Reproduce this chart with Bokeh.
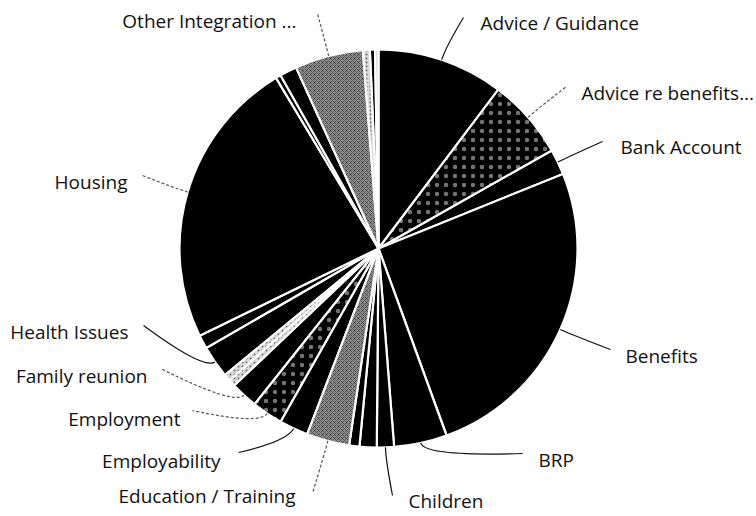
import math
from bokeh.plotting import figure
from bokeh.models import Range1d, ColumnDataSource
from bokeh.embed import file_html
from bokeh.resources import INLINE
from bokeh.core.properties import value

# ---------------- data (clockwise from 12 o'clock) ----------------
categories = [
    "Advice / Guidance", "Advice re benefits...", "Bank Account", "Benefits",
    "BRP", "Children", "(unlabelled 1)", "(unlabelled 2)",
    "Education / Training", "Employability", "Employment", "Family reunion",
    "(unlabelled 3)", "(unlabelled 4)", "Health Issues", "(unlabelled 5)",
    "Housing", "(unlabelled 6)", "(unlabelled 7)", "Other Integration ...",
    "(unlabelled 8)", "(unlabelled 9)", "(unlabelled 10)",
]
counts = [74, 47, 15, 184, 31, 10, 10, 6, 25, 17, 18, 16, 4, 4, 19, 8,
          170, 3, 10, 40, 4, 3, 2]
shown_labels = [
    "Advice / Guidance", "Advice re benefits...", "Bank Account", "Benefits",
    "BRP", "Children", "Education / Training", "Employability", "Employment",
    "Family reunion", "Health Issues", "Housing", "Other Integration ...",
]

# ---------------- styles ----------------
slice_style = ["black", "dots", "black", "black", "black", "black", "black",
               "black", "stipple", "black", "dots", "black", "light", "light",
               "black", "black", "black", "black", "black", "stipple",
               "light", "black", "light"]

# label layout in page pixels: text x, text y, align, leader anchor x, y, dashed
label_layout = {
    "Other Integration ...": (296, 20, "right", 317, 13, True),
    "Advice / Guidance": (480, 22, "left", 463, 17, False),
    "Advice re benefits...": (581, 92, "left", 566, 86, True),
    "Bank Account": (620, 146, "left", 602, 141, False),
    "Benefits": (625, 355, "left", 610, 349, False),
    "BRP": (538, 459, "left", 522, 453, False),
    "Children": (408, 500, "left", 392, 495, False),
    "Education / Training": (295, 495, "right", 312, 493, True),
    "Employability": (220, 460, "right", 238, 452, False),
    "Employment": (180, 418, "right", 192, 410, True),
    "Family reunion": (147, 375, "right", 160, 368, True),
    "Health Issues": (128, 331, "right", 143, 325, False),
    "Housing": (127, 181, "right", 142, 175, True),
}

W, H = 756, 516
CX, CY_PAGE = 378, 248
R = 199
FONT = "Open Sans"
FSIZE = "19px"


def py(y_page):
    return H - y_page


p = figure(width=W, height=H, output_backend="svg", toolbar_location=None,
           x_range=Range1d(0, W), y_range=Range1d(0, H),
           min_border=0)
p.axis.visible = False
p.grid.visible = False
p.outline_line_color = None
p.background_fill_color = "white"
p.border_fill_color = "white"

total = float(sum(counts))
cum = 0.0
starts, ends = [], []
for c in counts:
    starts.append(cum / total * 360.0)
    cum += c
    ends.append(cum / total * 360.0)

groups = {}
for i, st in enumerate(slice_style):
    groups.setdefault(st, []).append(i)

cy = py(CY_PAGE)
for st, idx in groups.items():
    src = ColumnDataSource(dict(
        x=[CX] * len(idx), y=[cy] * len(idx),
        sa=[math.radians(90 - starts[i]) for i in idx],
        ea=[math.radians(90 - ends[i]) for i in idx],
    ))
    kw = dict(x="x", y="y", radius=R, start_angle="sa", end_angle="ea",
              direction="clock", source=src, line_color="white",
              line_width=2.2)
    if st == "black":
        p.wedge(fill_color="black", **kw)
    elif st == "dots":
        p.wedge(fill_color="black", hatch_pattern="dot", hatch_color="white",
                hatch_scale=9, hatch_weight=1, hatch_alpha=0.45, **kw)
    elif st == "stipple":
        p.wedge(fill_color="#8e8e8e", hatch_pattern="diagonal_cross",
                hatch_color="black", hatch_scale=4, hatch_weight=0.7,
                hatch_alpha=0.6, **kw)
    else:
        p.wedge(fill_color="#d9d9d9", hatch_pattern="dot",
                hatch_color="black", hatch_scale=4, hatch_weight=1,
                hatch_alpha=0.5, **kw)

# leader lines and labels
lines = {True: dict(x0=[], y0=[], x1=[], y1=[], cx=[], cy=[]),
         False: dict(x0=[], y0=[], x1=[], y1=[], cx=[], cy=[])}
texts = {"left": dict(x=[], y=[], t=[]), "right": dict(x=[], y=[], t=[])}
for name in shown_labels:
    i = categories.index(name)
    mid = math.radians((starts[i] + ends[i]) / 2.0)
    rx = CX + R * math.sin(mid)
    ry = CY_PAGE - R * math.cos(mid)
    ex = CX + (R + 14) * math.sin(mid)
    ey = CY_PAGE - (R + 14) * math.cos(mid)
    tx, ty, align, ax, ay, dashed = label_layout[name]
    d = lines[dashed]
    d["x0"].append(rx); d["y0"].append(py(ry))
    d["x1"].append(ax); d["y1"].append(py(ay))
    d["cx"].append(ex); d["cy"].append(py(ey))
    texts[align]["x"].append(tx)
    texts[align]["y"].append(py(ty))
    texts[align]["t"].append(name)

for dashed, d in lines.items():
    if not d["x0"]:
        continue
    p.quadratic(x0="x0", y0="y0", x1="x1", y1="y1", cx="cx", cy="cy",
                source=ColumnDataSource(d),
                line_color="#555555" if dashed else "#111111",
                line_width=1.2, line_dash="3 2" if dashed else "solid")

for align, d in texts.items():
    p.text(x="x", y="y", text="t", source=ColumnDataSource(d),
           text_font=value(FONT), text_font_size=FSIZE, text_color="#111111",
           text_align=align, text_baseline="middle")

open("out.html", "w").write(file_html(p, INLINE))
